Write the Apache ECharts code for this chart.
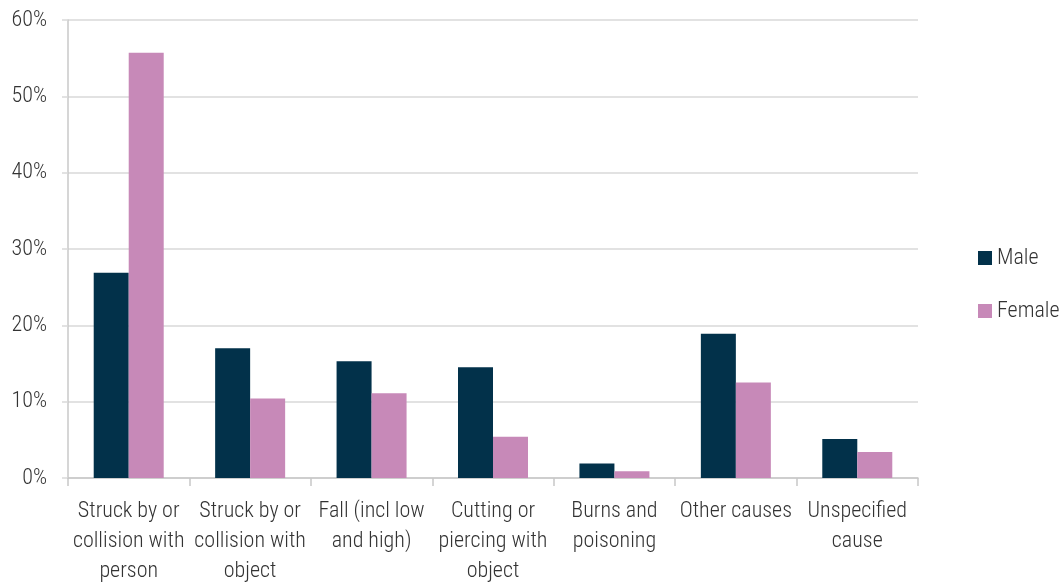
<!DOCTYPE html>
<html><head><meta charset="utf-8">
<script src="https://cdn.jsdelivr.net/npm/echarts@6/dist/echarts.min.js"></script>
<style>html,body{margin:0;padding:0;background:#fff;overflow:hidden}#c{width:1063px;height:583px}</style>
</head><body><div id="c"></div>
<script>
const categories = ["Struck by or\ncollision with\nperson","Struck by or\ncollision with\nobject","Fall (incl low\nand high)","Cutting or\npiercing with\nobject","Burns and\npoisoning","Other causes","Unspecified\ncause"];
const male = [26.9, 17.0, 15.3, 14.5, 1.9, 18.9, 5.1];
const female = [55.7, 10.4, 11.1, 5.4, 0.9, 12.5, 3.4];
const yTicks = [0, 10, 20, 30, 40, 50, 60];
const FONT = '"Roboto Condensed", Roboto, sans-serif';
const chart = echarts.init(document.getElementById('c'), null, {renderer:'canvas', width:1063, height:583});
chart.setOption({
  animation:false,
  textStyle:{fontFamily:FONT},
  grid:{left:68,right:145,top:20,bottom:105,containLabel:false,outerBoundsMode:'none'},
  legend:{orient:'vertical',left:973,top:242,itemWidth:14,itemHeight:14,itemGap:31,
    icon:'rect',textStyle:{fontSize:22,fontWeight:300,color:'#333',fontFamily:FONT},
    data:['Male','Female']},
  xAxis:{type:'category',data:categories,
    axisLine:{lineStyle:{color:'#c8c8c8',width:1.5}},
    axisTick:{show:true,length:8,lineStyle:{color:'#c8c8c8',width:1.5}},
    axisLabel:{fontSize:22,fontWeight:300,color:'#333',lineHeight:30,margin:18,interval:0,fontFamily:FONT}},
  yAxis:{type:'value',min:yTicks[0],max:yTicks[yTicks.length-1],interval:10,
    axisLine:{show:true,lineStyle:{color:'#c8c8c8',width:1.5}},
    axisTick:{show:true,length:6,lineStyle:{color:'#d9d9d9',width:1.5}},
    splitLine:{lineStyle:{color:'#d9d9d9',width:1.5}},
    axisLabel:{fontSize:22,fontWeight:300,color:'#333',margin:21,formatter:'{value}%',fontFamily:FONT}},
  series:[
    {name:'Male',type:'bar',data:male,barWidth:35,barGap:'0%',itemStyle:{color:'#02314a'}},
    {name:'Female',type:'bar',data:female,barWidth:35,itemStyle:{color:'#c789b8'}}
  ]
});
</script></body></html>
